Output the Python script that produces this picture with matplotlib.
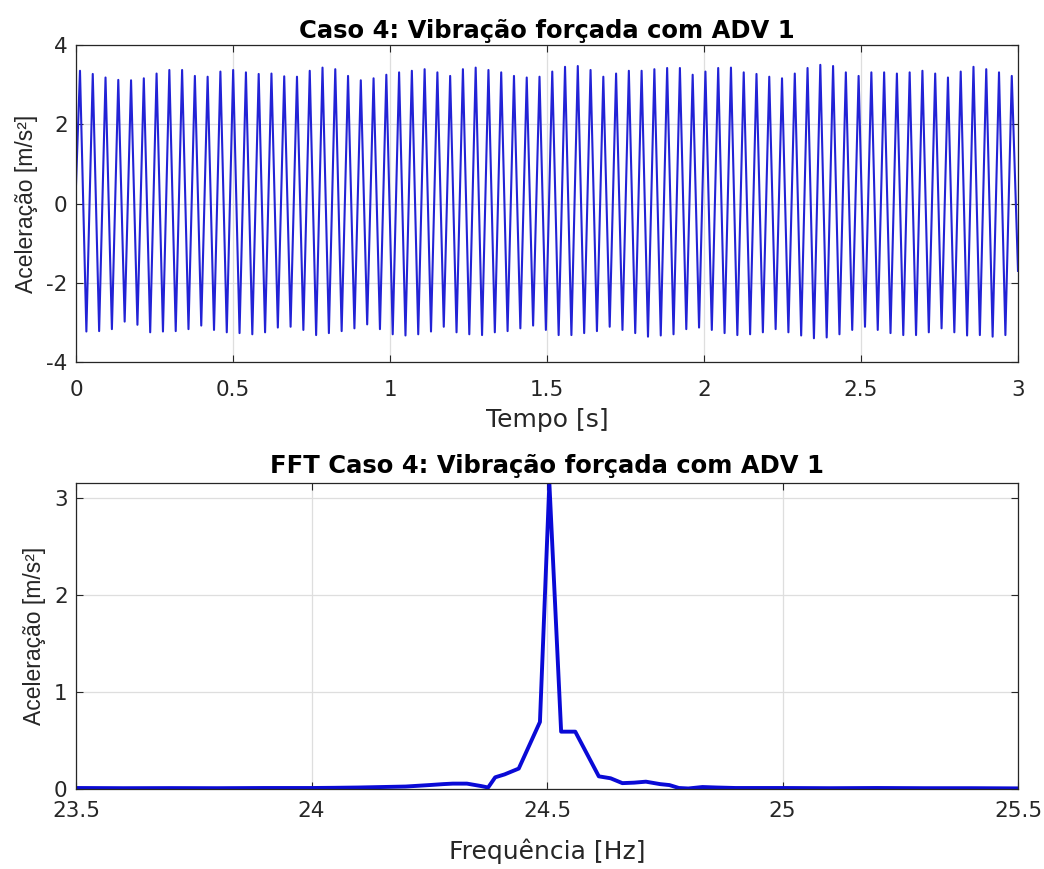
import numpy as np
import matplotlib
matplotlib.use("Agg")
import matplotlib.pyplot as plt

# ---------------- data ----------------
# Time signal: successive maxima and minima of the ~24.5 Hz response
peak_values = [3.35, 3.27, 3.18, 3.12, 3.11, 3.16, 3.28, 3.37, 3.37, 3.22,
               3.20, 3.33, 3.37, 3.31, 3.27, 3.28, 3.21, 3.20, 3.35, 3.43,
               3.39, 3.22, 3.11, 3.16, 3.25, 3.31, 3.35, 3.39, 3.31, 3.22,
               3.39, 3.43, 3.37, 3.31, 3.22, 3.18, 3.20, 3.33, 3.45, 3.47,
               3.37, 3.20, 3.28, 3.35, 3.35, 3.39, 3.42, 3.42, 3.25, 3.33,
               3.42, 3.43, 3.31, 3.27, 3.20, 3.16, 3.28, 3.42, 3.50, 3.47,
               3.31, 3.22, 3.31, 3.31, 3.28, 3.31, 3.35, 3.28, 3.18, 3.33,
               3.45, 3.39, 3.31, 3.22]
trough_values = [-3.23, -3.22, -3.17, -2.98, -3.06, -3.25, -3.23, -3.22, -3.17, -3.08,
                 -3.19, -3.25, -3.27, -3.30, -3.25, -3.13, -3.11, -3.19, -3.32, -3.27,
                 -3.22, -3.15, -3.05, -3.17, -3.30, -3.33, -3.30, -3.23, -3.11, -3.25,
                 -3.30, -3.32, -3.25, -3.22, -3.15, -3.08, -3.19, -3.32, -3.32, -3.27,
                 -3.22, -3.11, -3.19, -3.27, -3.36, -3.33, -3.30, -3.17, -3.13, -3.19,
                 -3.27, -3.32, -3.30, -3.25, -3.17, -3.25, -3.33, -3.40, -3.38, -3.30,
                 -3.19, -3.11, -3.19, -3.27, -3.32, -3.32, -3.25, -3.15, -3.25, -3.33,
                 -3.32, -3.36, -3.32]
start_value = 0.48        # value at t = 0
end_value = -1.70         # value at t = 3 s
first_peak_time = 0.0127  # s
cycle_period = 0.04065    # s
t_end = 3.0

# FFT magnitude (frequency in Hz, amplitude in m/s^2)
fft_freq = [23.50, 23.60, 23.70, 23.80, 23.90, 24.00, 24.05, 24.10, 24.15, 24.20,
            24.25, 24.28, 24.30, 24.33, 24.36, 24.375, 24.39, 24.41, 24.44, 24.485,
            24.505, 24.53, 24.56, 24.61, 24.635, 24.66, 24.685, 24.71, 24.74, 24.76,
            24.78, 24.80, 24.83, 24.86, 24.90, 25.00, 25.10, 25.20, 25.30, 25.40, 25.50]
fft_amp = [0.010, 0.008, 0.009, 0.008, 0.010, 0.010, 0.012, 0.015, 0.020, 0.025,
           0.040, 0.050, 0.055, 0.055, 0.030, 0.015, 0.12, 0.15, 0.21, 0.69,
           3.15, 0.59, 0.59, 0.13, 0.11, 0.06, 0.065, 0.075, 0.05, 0.04,
           0.01, 0.005, 0.02, 0.015, 0.01, 0.010, 0.008, 0.010, 0.008, 0.008, 0.006]

top_title = "Caso 4: Vibração forçada com ADV 1"
bottom_title = "FFT Caso 4: Vibração forçada com ADV 1"
top_xlabel = "Tempo [s]"
bottom_xlabel = "Frequência [Hz]"
ylabel = "Aceleração [m/s²]"
top_xticks = [0, 0.5, 1, 1.5, 2, 2.5, 3]
top_xticklabels = ["0", "0.5", "1", "1.5", "2", "2.5", "3"]
top_yticks = [-4, -2, 0, 2, 4]
bottom_xticks = [23.5, 24, 24.5, 25, 25.5]
bottom_xticklabels = ["23.5", "24", "24.5", "25", "25.5"]
bottom_yticks = [0, 1, 2, 3]

# ---------------- build time series from the extremes ----------------
ext_t = [0.0]
ext_v = [start_value]
for k, p in enumerate(peak_values):
    ext_t.append(first_peak_time + k * cycle_period)
    ext_v.append(p)
    if k < len(trough_values):
        ext_t.append(first_peak_time + (k + 0.5) * cycle_period)
        ext_v.append(trough_values[k])
ext_t.append(t_end)
ext_v.append(end_value)

# ---------------- style ----------------
plt.rcParams["font.family"] = ["DejaVu Sans"]
plt.rcParams["axes.unicode_minus"] = False

txt = "#262626"
grid_c = "#dedede"
ylab_font = dict(family=["Liberation Sans", "DejaVu Sans"], size=16.5, color=txt)

fig = plt.figure(figsize=(10.44, 8.69), dpi=100)
ax1 = fig.add_axes([0.0728, 0.5834, 0.9023, 0.3648])
ax2 = fig.add_axes([0.0728, 0.0921, 0.9023, 0.3521])

def style(ax, xpad):
    ax.tick_params(direction="in", length=5, width=0.8, colors=txt,
                   labelsize=15.5, top=True, right=True)
    ax.tick_params(axis="x", pad=xpad)
    ax.tick_params(axis="y", pad=6)
    for s in ax.spines.values():
        s.set_color(txt)
        s.set_linewidth(0.9)
    ax.grid(True, color=grid_c, linewidth=0.9)
    ax.set_axisbelow(True)

ax1.plot(ext_t, ext_v, color="#2222d6", linewidth=1.5)
ax1.set_xlim(0, 3)
ax1.set_ylim(-4, 4)
ax1.set_xticks(top_xticks, top_xticklabels)
ax1.set_yticks(top_yticks)
style(ax1, 13)
ax1.set_title(top_title, fontsize=17.5, fontweight="bold", color="black", pad=5)
ax1.set_xlabel(top_xlabel, fontsize=18, color=txt, labelpad=6)
ax1.set_ylabel(ylabel, labelpad=6, **ylab_font)

ax2.plot(fft_freq, fft_amp, color="#0a0ad6", linewidth=2.8, solid_joinstyle="round")
ax2.set_xlim(23.5, 25.5)
ax2.set_ylim(0, max(fft_amp))
ax2.set_xticks(bottom_xticks, bottom_xticklabels)
ax2.set_yticks(bottom_yticks)
style(ax2, 9)
ax2.set_title(bottom_title, fontsize=17.5, fontweight="bold", color="black", pad=7)
ax2.set_xlabel(bottom_xlabel, fontsize=18, color=txt, labelpad=12)
ax2.set_ylabel(ylabel, labelpad=6, **ylab_font)

fig.savefig("out.png", dpi=100)
